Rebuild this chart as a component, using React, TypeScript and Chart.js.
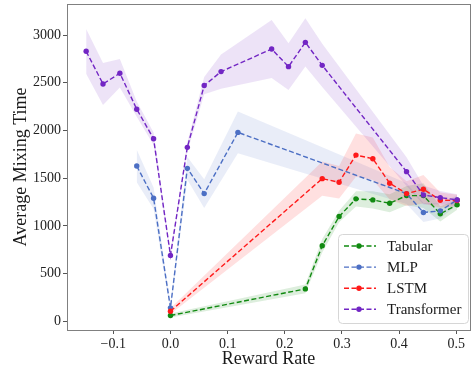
import React, { useEffect, useRef } from "react";
import { Chart, registerables } from "chart.js";

Chart.register(...registerables);

const FONT = '"Liberation Serif", "DejaVu Serif", "Times New Roman", serif';

// ---- data ----
const seriesNames = ["Tabular", "MLP", "LSTM", "Transformer"];

const tabularX = [0, 0.236, 0.2655, 0.295, 0.3245, 0.354, 0.3835, 0.413, 0.4425, 0.472, 0.5015];
const tabularMean = [60, 339, 791, 1098, 1283, 1272, 1237, 1317, 1317, 1126, 1220];
const tabularStd = [20, 45, 70, 60, 80, 90, 95, 100, 130, 80, 50];

const mlpX = [-0.059, -0.0295, 0, 0.0295, 0.059, 0.118, 0.413, 0.4425, 0.472, 0.5015];
const mlpMean = [1627, 1290, 140, 1603, 1338, 1980, 1338, 1140, 1157, 1272];
const mlpStd = [170, 113, 40, 120, 150, 220, 110, 100, 80, 50];

const lstmX = [0, 0.2655, 0.295, 0.3245, 0.354, 0.3835, 0.413, 0.4425, 0.472, 0.5015];
const lstmMean = [105, 1495, 1457, 1742, 1704, 1447, 1338, 1384, 1269, 1265];
const lstmStd = [30, 180, 170, 227, 223, 170, 130, 150, 80, 60];

const transformerX = [-0.1475, -0.118, -0.0885, -0.059, -0.0295, 0, 0.0295, 0.059, 0.0885, 0.177, 0.2065, 0.236, 0.2655, 0.413, 0.4425, 0.472, 0.5015];
const transformerMean = [2830, 2488, 2600, 2223, 1913, 690, 1823, 2471, 2617, 2854, 2669, 2924, 2683, 1568, 1324, 1296, 1272];
const transformerStd = [235, 220, 150, 80, 65, 30, 50, 90, 180, 305, 245, 253, 227, 150, 100, 70, 60];

const xTickValues = [-0.1, 0, 0.1, 0.2, 0.3, 0.4, 0.5];
const xTickLabels = ["\u22120.1", "0.0", "0.1", "0.2", "0.3", "0.4", "0.5"];
const yTickValues = [0, 500, 1000, 1500, 2000, 2500, 3000];
const yTickLabels = ["0", "500", "1000", "1500", "2000", "2500", "3000"];

const lineColors = ["#118a11", "#4c6fc4", "#ff1a1a", "#7226c4"];
const bandColors = [
  "rgba(17,138,17,0.14)",
  "rgba(76,111,196,0.12)",
  "rgba(255,60,60,0.16)",
  "rgba(114,38,196,0.13)",
];

const allSeries = [
  { x: tabularX, m: tabularMean, s: tabularStd },
  { x: mlpX, m: mlpMean, s: mlpStd },
  { x: lstmX, m: lstmMean, s: lstmStd },
  { x: transformerX, m: transformerMean, s: transformerStd },
];

const framePlugin = {
  id: "mplFrame",
  afterDatasetsDraw(chart: any) {
    const { ctx, chartArea: a } = chart;
    ctx.save();
    ctx.strokeStyle = "#808080";
    ctx.lineWidth = 1;
    ctx.strokeRect(Math.round(a.left) + 0.5, Math.round(a.top) + 0.5, Math.round(a.right - a.left), Math.round(a.bottom - a.top));
    ctx.restore();
  },
};

const legendPlugin = {
  id: "mplLegend",
  afterDraw(chart: any) {
    const { ctx, chartArea: a } = chart;
    const w = 130;
    const h = 89;
    const x0 = a.right - 2 - w;
    const y0 = a.bottom - 7 - h;
    ctx.save();
    ctx.beginPath();
    (ctx as any).roundRect(x0 + 0.5, y0 + 0.5, w, h, 4);
    ctx.fillStyle = "rgba(255,255,255,0.85)";
    ctx.fill();
    ctx.strokeStyle = "#d6d6d6";
    ctx.lineWidth = 1;
    ctx.stroke();
    seriesNames.forEach((name, i) => {
      const cy = y0 + 12 + i * 21.1;
      ctx.beginPath();
      ctx.setLineDash([5, 2.5]);
      ctx.strokeStyle = lineColors[i];
      ctx.lineWidth = 1.4;
      ctx.moveTo(x0 + 6, cy);
      ctx.lineTo(x0 + 38, cy);
      ctx.stroke();
      ctx.setLineDash([]);
      ctx.beginPath();
      ctx.fillStyle = lineColors[i];
      ctx.arc(x0 + 21, cy, 2.7, 0, Math.PI * 2);
      ctx.fill();
      ctx.fillStyle = "#1a1a1a";
      ctx.font = `15px ${FONT}`;
      ctx.textBaseline = "middle";
      ctx.textAlign = "left";
      ctx.fillText(name, x0 + 49, cy + 1);
    });
    ctx.restore();
  },
};

export default function App() {
  const ref = useRef<HTMLCanvasElement | null>(null);

  useEffect(() => {
    if (!ref.current) return;
    const datasets: any[] = [];
    allSeries.forEach((ser, i) => {
      datasets.push({
        label: seriesNames[i] + " low",
        data: ser.x.map((x, k) => ({ x, y: ser.m[k] - ser.s[k] })),
        borderWidth: 0,
        pointRadius: 0,
        fill: false,
        order: 100 - i * 2,
      });
      datasets.push({
        label: seriesNames[i] + " high",
        data: ser.x.map((x, k) => ({ x, y: ser.m[k] + ser.s[k] })),
        borderWidth: 0,
        pointRadius: 0,
        backgroundColor: bandColors[i],
        fill: "-1",
        order: 99 - i * 2,
      });
    });
    allSeries.forEach((ser, i) => {
      datasets.push({
        label: seriesNames[i],
        data: ser.x.map((x, k) => ({ x, y: ser.m[k] })),
        borderColor: lineColors[i],
        backgroundColor: lineColors[i],
        borderWidth: 1.4,
        borderDash: [5, 2.5],
        pointRadius: 2.7,
        pointBorderWidth: 0,
        pointBackgroundColor: lineColors[i],
        fill: false,
        tension: 0,
        order: 10 - i,
      });
    });

    const chart = new Chart(ref.current, {
      type: "line",
      data: { datasets },
      options: {
        animation: false,
        responsive: false,
        devicePixelRatio: 1,
        layout: { padding: { top: 4, right: 1, left: 0, bottom: 0 } },
        plugins: {
          legend: { display: false },
          tooltip: { enabled: false },
        },
        scales: {
          x: {
            type: "linear",
            min: -0.181,
            max: 0.524,
            afterBuildTicks: (scale: any) => {
              scale.ticks = xTickValues.map((v) => ({ value: v }));
            },
            afterFit: (scale: any) => {
              scale.height = 40;
              scale.paddingLeft = 0;
              scale.paddingRight = 0;
            },
            ticks: {
              autoSkip: false,
              maxRotation: 0,
              padding: 2,
              color: "#222",
              font: { family: FONT, size: 14 },
              callback: (v: any) => {
                const idx = xTickValues.findIndex((t) => Math.abs(t - v) < 1e-9);
                return idx >= 0 ? xTickLabels[idx] : "";
              },
            },
            grid: { drawOnChartArea: false, drawTicks: true, tickLength: 4, color: "#555" },
            border: { display: false },
            title: {
              display: true,
              text: "Reward Rate",
              color: "#1a1a1a",
              font: { family: FONT, size: 18, lineHeight: 1.2 },
              padding: { top: 0, bottom: 0 },
            },
          },
          y: {
            type: "linear",
            min: -92,
            max: 3326,
            afterBuildTicks: (scale: any) => {
              scale.ticks = yTickValues.map((v) => ({ value: v }));
            },
            afterFit: (scale: any) => {
              scale.width = 67;
              scale.paddingTop = 0;
              scale.paddingBottom = 0;
            },
            ticks: {
              autoSkip: false,
              padding: 2,
              color: "#222",
              font: { family: FONT, size: 14 },
              callback: (v: any) => {
                const idx = yTickValues.findIndex((t) => Math.abs(t - v) < 1e-9);
                return idx >= 0 ? yTickLabels[idx] : "";
              },
            },
            grid: { drawOnChartArea: false, drawTicks: true, tickLength: 4, color: "#555" },
            border: { display: false },
            title: {
              display: true,
              text: "Average Mixing Time",
              color: "#1a1a1a",
              font: { family: FONT, size: 18, lineHeight: 1.2 },
              padding: { top: 10, bottom: 0 },
            },
          },
        },
      },
      plugins: [framePlugin, legendPlugin],
    });
    return () => chart.destroy();
  }, []);

  return (
    <div style={{ position: "fixed", left: 0, top: 0, width: 474, height: 370, background: "#fff" }}>
      <canvas ref={ref} width={474} height={370} style={{ display: "block", width: 474, height: 370 }} />
    </div>
  );
}
